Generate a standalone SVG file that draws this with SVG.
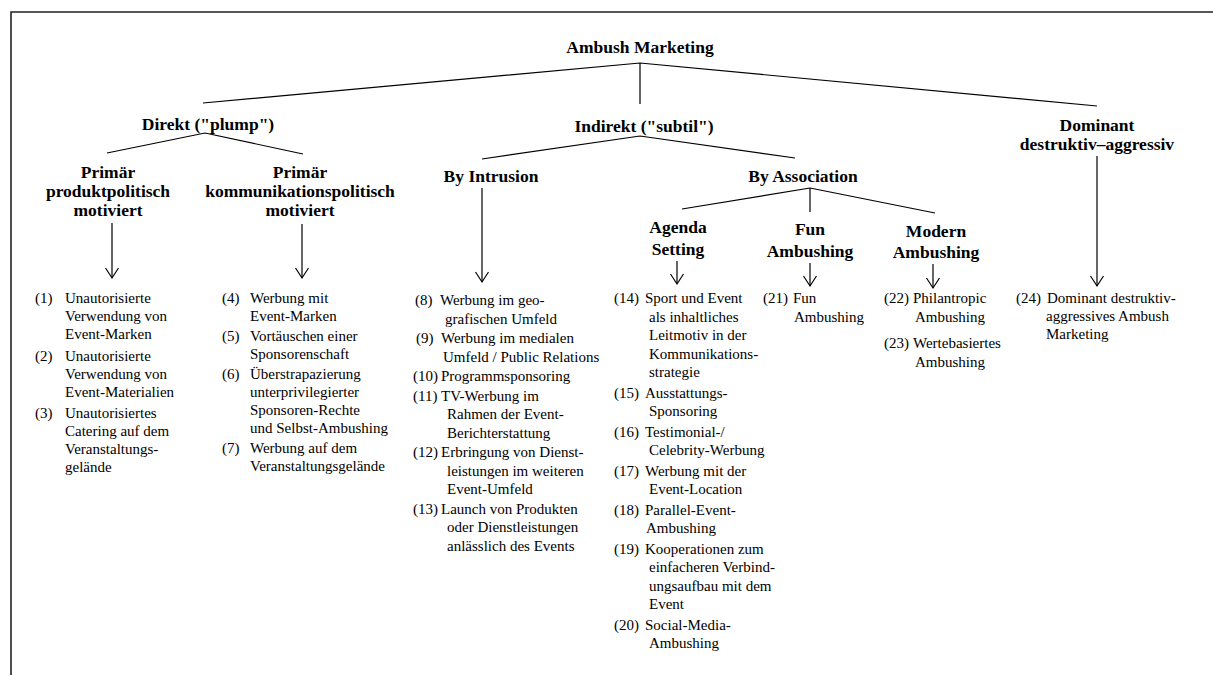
<svg xmlns="http://www.w3.org/2000/svg" width="1213" height="675" viewBox="0 0 1213 675">
<style>
text{font-family:"Liberation Serif","Times New Roman",serif;fill:#000}
.h{font-size:17.5px;font-weight:bold;text-anchor:middle}
.b{font-size:15px}
.ln{stroke:#000;stroke-width:1.2;fill:none}
.ar{stroke:#000;stroke-width:1.2;fill:none;marker-end:url(#arr)}
</style>
<defs>
<marker id="arr" markerUnits="userSpaceOnUse" markerWidth="20" markerHeight="20" refX="0" refY="0" orient="auto" overflow="visible">
<path d="M-10,-6.5 L0,0 L-10,6.5" fill="none" stroke="#000" stroke-width="1.2"/>
</marker>
</defs>
<rect width="1213" height="675" fill="#fff"/>
<path d="M11,675 L11,12 L1213,12" fill="none" stroke="#222" stroke-width="1.6"/>

<g id="connectors">
<path class="ln" d="M640,63 L203,103 M640,63 L640,104 M640,63 L1097,106"/>
<path class="ln" d="M205,133 L107,153 M205,133 L303,154"/>
<path class="ln" d="M640,136 L482,159 M640,136 L795,158"/>
<path class="ln" d="M810,188 L682,209 M810,188 L810,212 M810,188 L935,213"/>
<line class="ar" x1="112" y1="223" x2="112" y2="278"/>
<line class="ar" x1="302" y1="224" x2="302" y2="278"/>
<line class="ar" x1="482" y1="188" x2="482" y2="282"/>
<line class="ar" x1="677" y1="261" x2="677" y2="284"/>
<line class="ar" x1="810" y1="263" x2="810" y2="286"/>
<line class="ar" x1="933" y1="264" x2="933" y2="288"/>
<line class="ar" x1="1097" y1="156" x2="1097" y2="286"/>
</g>

<g id="root"><text class="h" x="640" y="53">Ambush Marketing</text></g>
<g id="direkt"><text class="h" x="208" y="130">Direkt ("plump")</text></g>
<g id="indirekt"><text class="h" x="644" y="132">Indirekt ("subtil")</text></g>
<g id="dominant"><text class="h" x="1097" y="131">Dominant</text><text class="h" x="1097" y="150">destruktiv–aggressiv</text></g>
<g id="produkt"><text class="h" x="108" y="178">Primär</text><text class="h" x="108" y="197">produktpolitisch</text><text class="h" x="108" y="216">motiviert</text></g>
<g id="kommunikation"><text class="h" x="300" y="178">Primär</text><text class="h" x="300" y="197">kommunikationspolitisch</text><text class="h" x="300" y="216">motiviert</text></g>
<g id="intrusion"><text class="h" x="491" y="182">By Intrusion</text></g>
<g id="association"><text class="h" x="803" y="182">By Association</text></g>
<g id="agenda"><text class="h" x="678" y="233">Agenda</text><text class="h" x="678" y="255">Setting</text></g>
<g id="fun"><text class="h" x="810" y="235">Fun</text><text class="h" x="810" y="257">Ambushing</text></g>
<g id="modern"><text class="h" x="936" y="237">Modern</text><text class="h" x="936" y="258">Ambushing</text></g>

<g id="list-produkt">
<text class="b" y="303"><tspan x="35">(1)</tspan><tspan x="65">Unautorisierte</tspan></text>
<text class="b" x="65" y="321">Verwendung von</text>
<text class="b" x="65" y="339">Event-Marken</text>
<text class="b" y="361"><tspan x="35">(2)</tspan><tspan x="65">Unautorisierte</tspan></text>
<text class="b" x="65" y="379">Verwendung von</text>
<text class="b" x="65" y="397">Event-Materialien</text>
<text class="b" y="418"><tspan x="35">(3)</tspan><tspan x="65">Unautorisiertes</tspan></text>
<text class="b" x="65" y="436">Catering auf dem</text>
<text class="b" x="65" y="454">Veranstaltungs-</text>
<text class="b" x="65" y="472">gelände</text>
</g>

<g id="list-kommunikation">
<text class="b" y="303"><tspan x="222">(4)</tspan><tspan x="250">Werbung mit</tspan></text>
<text class="b" x="250" y="321">Event-Marken</text>
<text class="b" y="341"><tspan x="222">(5)</tspan><tspan x="250">Vortäuschen einer</tspan></text>
<text class="b" x="250" y="359">Sponsorenschaft</text>
<text class="b" y="379"><tspan x="222">(6)</tspan><tspan x="250">Überstrapazierung</tspan></text>
<text class="b" x="250" y="397">unterprivilegierter</text>
<text class="b" x="250" y="415">Sponsoren-Rechte</text>
<text class="b" x="250" y="433">und Selbst-Ambushing</text>
<text class="b" y="453"><tspan x="222">(7)</tspan><tspan x="250">Werbung auf dem</tspan></text>
<text class="b" x="250" y="471">Veranstaltungsgelände</text>
</g>

<g id="list-intrusion">
<text class="b" y="305"><tspan x="415">(8)</tspan><tspan x="440">Werbung im geo-</tspan></text>
<text class="b" x="445" y="323.5">grafischen Umfeld</text>
<text class="b" y="343"><tspan x="416">(9)</tspan><tspan x="441">Werbung im medialen</tspan></text>
<text class="b" x="443" y="361.5">Umfeld / Public Relations</text>
<text class="b" y="381"><tspan x="413">(10)</tspan><tspan x="441">Programmsponsoring</tspan></text>
<text class="b" y="400.5"><tspan x="413">(11)</tspan><tspan x="441">TV-Werbung im</tspan></text>
<text class="b" x="447" y="419">Rahmen der Event-</text>
<text class="b" x="447" y="437.5">Berichterstattung</text>
<text class="b" y="457"><tspan x="413">(12)</tspan><tspan x="441">Erbringung von Dienst-</tspan></text>
<text class="b" x="447" y="475.5">leistungen im weiteren</text>
<text class="b" x="447" y="494">Event-Umfeld</text>
<text class="b" y="513.5"><tspan x="413">(13)</tspan><tspan x="441">Launch von Produkten</tspan></text>
<text class="b" x="447" y="532">oder Dienstleistungen</text>
<text class="b" x="447" y="550.5">anlässlich des Events</text>
</g>

<g id="list-agenda">
<text class="b" y="303"><tspan x="614">(14)</tspan><tspan x="645">Sport und Event</tspan></text>
<text class="b" x="649" y="321.5">als inhaltliches</text>
<text class="b" x="649" y="340">Leitmotiv in der</text>
<text class="b" x="649" y="358.5">Kommunikations-</text>
<text class="b" x="649" y="377">strategie</text>
<text class="b" y="397.5"><tspan x="614">(15)</tspan><tspan x="645">Ausstattungs-</tspan></text>
<text class="b" x="649" y="416">Sponsoring</text>
<text class="b" y="436.5"><tspan x="614">(16)</tspan><tspan x="645">Testimonial-/</tspan></text>
<text class="b" x="649" y="455">Celebrity-Werbung</text>
<text class="b" y="475.5"><tspan x="614">(17)</tspan><tspan x="645">Werbung mit der</tspan></text>
<text class="b" x="649" y="494">Event-Location</text>
<text class="b" y="514.5"><tspan x="614">(18)</tspan><tspan x="645">Parallel-Event-</tspan></text>
<text class="b" x="646" y="533">Ambushing</text>
<text class="b" y="553.5"><tspan x="614">(19)</tspan><tspan x="645">Kooperationen zum</tspan></text>
<text class="b" x="649" y="572">einfacheren Verbind-</text>
<text class="b" x="649" y="590.5">ungsaufbau mit dem</text>
<text class="b" x="649" y="609">Event</text>
<text class="b" y="629.5"><tspan x="614">(20)</tspan><tspan x="645">Social-Media-</tspan></text>
<text class="b" x="649" y="648">Ambushing</text>
</g>

<g id="list-fun">
<text class="b" y="303"><tspan x="763">(21)</tspan><tspan x="793">Fun</tspan></text>
<text class="b" x="794" y="321.5">Ambushing</text>
</g>

<g id="list-modern">
<text class="b" y="303"><tspan x="884">(22)</tspan><tspan x="913">Philantropic</tspan></text>
<text class="b" x="915" y="321.5">Ambushing</text>
<text class="b" y="348"><tspan x="884">(23)</tspan><tspan x="913">Wertebasiertes</tspan></text>
<text class="b" x="915" y="366.5">Ambushing</text>
</g>

<g id="list-dominant">
<text class="b" y="303"><tspan x="1016">(24)</tspan><tspan x="1047">Dominant destruktiv-</tspan></text>
<text class="b" x="1046" y="321">aggressives Ambush</text>
<text class="b" x="1046" y="339">Marketing</text>
</g>
</svg>
